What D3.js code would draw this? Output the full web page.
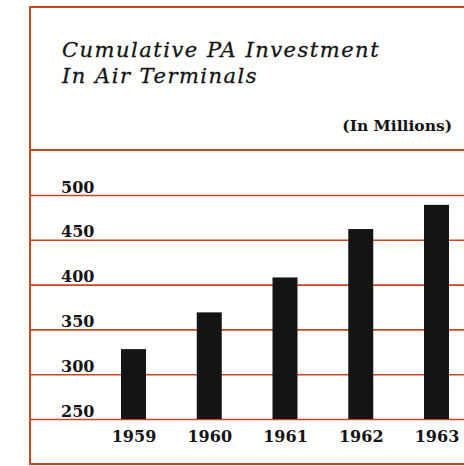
<!DOCTYPE html>
<html>
<head>
<meta charset="utf-8">
<script src="https://cdn.jsdelivr.net/npm/d3@7"></script>
<style>
  body { margin: 0; background: #fff; }
  svg { display: block; }
</style>
</head>
<body>
<svg id="chart"></svg>
<script>
const years = ["1959", "1960", "1961", "1962", "1963"];
const investment = [328, 369, 408, 462, 489];   // $ millions, cumulative
const yTicks = [250, 300, 350, 400, 450, 500];
const titleLines = ["Cumulative PA Investment", "In Air Terminals"];
const unitLabel = "(In Millions)";

const width = 464, height = 466;
const frame = { left: 30, top: 7, right: 464, bottom: 464, header: 150 };
const rule = "#c9461f";
const ink = "#141414";

const svg = d3.select("#chart")
    .attr("width", width)
    .attr("height", height);

const x = d3.scalePoint()
    .domain(years)
    .range([133.5, 436.5]);

const y = d3.scaleLinear()
    .domain([250, 500])
    .range([419, 195]);

const barW = 25;

// frame
svg.append("path")
    .attr("d", `M${frame.right},${frame.top}H${frame.left}V${frame.bottom}H${frame.right}`)
    .attr("fill", "none")
    .attr("stroke", rule)
    .attr("stroke-width", 2);

svg.append("line")
    .attr("x1", frame.left).attr("x2", frame.right)
    .attr("y1", frame.header).attr("y2", frame.header)
    .attr("stroke", rule)
    .attr("stroke-width", 1.8);

// title
svg.append("text")
    .attr("x", 62)
    .attr("y", 57)
    .style("font-family", "DejaVu Serif")
    .style("font-style", "italic")
    .style("font-size", "21px")
    .style("letter-spacing", "1.5px")
    .attr("fill", ink)
    .attr("stroke", ink)
    .attr("stroke-width", 0.3)
  .selectAll("tspan")
  .data(titleLines)
  .join("tspan")
    .attr("x", 62)
    .attr("dy", (d, i) => i ? 26 : 0)
    .text(d => d);

svg.append("text")
    .attr("x", 452)
    .attr("y", 131)
    .attr("text-anchor", "end")
    .style("font-family", "DejaVu Serif")
    .style("font-weight", "bold")
    .style("font-size", "15.5px")
    .attr("fill", ink)
    .text(unitLabel);

// gridlines + value labels
const yAxis = d3.axisLeft(y)
    .tickValues(yTicks)
    .tickSize(-(frame.right - frame.left))
    .tickFormat(d3.format("d"));

const gy = svg.append("g")
    .attr("transform", `translate(${frame.left},0)`)
    .call(yAxis);

gy.select(".domain").remove();
gy.selectAll(".tick line")
    .attr("stroke", rule)
    .attr("stroke-width", 1.6);
gy.selectAll(".tick text")
    .attr("x", 31)
    .attr("y", 0)
    .attr("dy", -3)
    .attr("text-anchor", "start")
    .style("font-family", "DejaVu Serif")
    .style("font-weight", "bold")
    .style("font-size", "16px")
    .attr("fill", ink);

// bars
svg.append("g")
  .selectAll("rect")
  .data(investment)
  .join("rect")
    .attr("x", (d, i) => x(years[i]) - barW / 2)
    .attr("y", d => y(d))
    .attr("width", barW)
    .attr("height", d => y(250) - y(d))
    .attr("fill", ink);

// year labels
const xAxis = d3.axisBottom(x).tickSize(0).tickPadding(0);
const gx = svg.append("g")
    .attr("transform", `translate(0,${y(250)})`)
    .call(xAxis);
gx.select(".domain").remove();
gx.selectAll(".tick text")
    .attr("y", 23)
    .attr("dy", 0)
    .style("font-family", "DejaVu Serif")
    .style("font-weight", "bold")
    .style("font-size", "16px")
    .attr("fill", ink);
</script>
</body>
</html>
